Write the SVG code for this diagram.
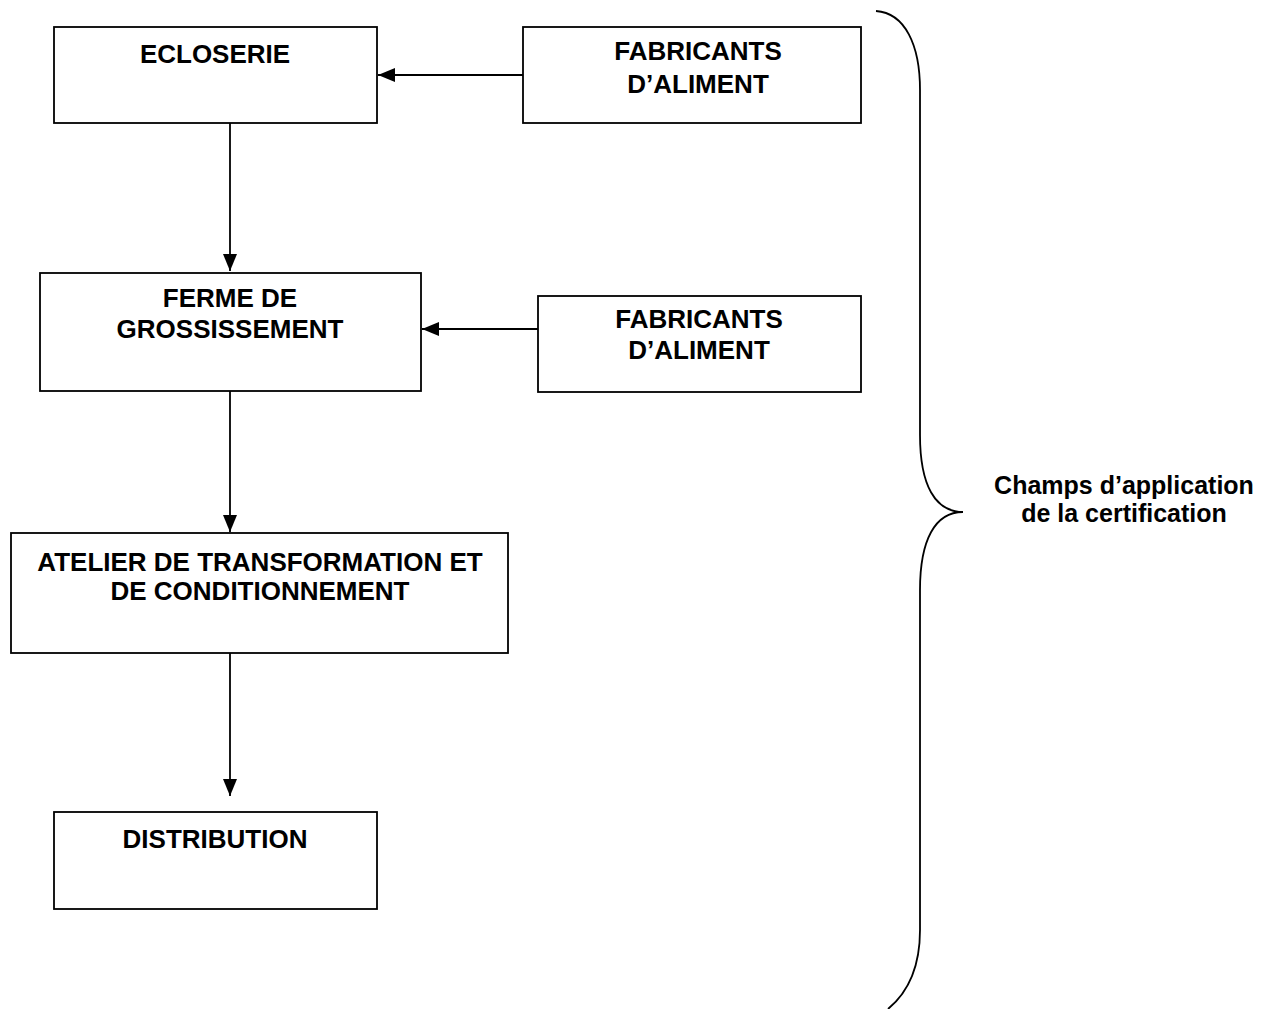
<svg xmlns="http://www.w3.org/2000/svg" width="1267" height="1009" viewBox="0 0 1267 1009">
<style>
.box{fill:#fff;stroke:#000;stroke-width:1.8}
.t{font-family:"Liberation Sans",Arial,sans-serif;font-weight:bold;font-size:26px;text-anchor:middle;fill:#000}
.c{fill:none;stroke:#000;stroke-width:1.8}
.br{fill:none;stroke:#000;stroke-width:1.8}
.lbl{font-size:25px}
</style>
<defs>
<marker id="ah" viewBox="0 0 17 14" refX="17" refY="7" markerWidth="17" markerHeight="14" markerUnits="userSpaceOnUse" orient="auto">
<path d="M0,0 L17,7 L0,14 Z" fill="#000"/>
</marker>
</defs>
<rect width="1267" height="1009" fill="#fff"/>
<g id="connectors">
<line class="c" x1="523" y1="75" x2="378" y2="75" marker-end="url(#ah)"/>
<line class="c" x1="538" y1="329" x2="422" y2="329" marker-end="url(#ah)"/>
<line class="c" x1="230" y1="123" x2="230" y2="271" marker-end="url(#ah)"/>
<line class="c" x1="230" y1="391" x2="230" y2="532" marker-end="url(#ah)"/>
<line class="c" x1="230" y1="653" x2="230" y2="796" marker-end="url(#ah)"/>
</g>
<g id="ecloserie">
<rect class="box" x="54" y="27" width="323" height="96"/>
<text class="t" x="215" y="63">ECLOSERIE</text>
</g>
<g id="fabricants1">
<rect class="box" x="523" y="27" width="338" height="96"/>
<text class="t" x="698" y="60">FABRICANTS</text>
<text class="t" x="698" y="93">D’ALIMENT</text>
</g>
<g id="ferme">
<rect class="box" x="40" y="273" width="381" height="118"/>
<text class="t" x="230" y="307">FERME DE</text>
<text class="t" x="230" y="338">GROSSISSEMENT</text>
</g>
<g id="fabricants2">
<rect class="box" x="538" y="296" width="323" height="96"/>
<text class="t" x="699" y="328">FABRICANTS</text>
<text class="t" x="699" y="359">D’ALIMENT</text>
</g>
<g id="atelier">
<rect class="box" x="11" y="533" width="497" height="120"/>
<text class="t" x="260" y="571">ATELIER DE TRANSFORMATION ET</text>
<text class="t" x="260" y="600">DE CONDITIONNEMENT</text>
</g>
<g id="distribution">
<rect class="box" x="54" y="812" width="323" height="97"/>
<text class="t" x="215" y="848">DISTRIBUTION</text>
</g>
<g id="brace">
<path class="br" d="M876,11 C905,13 920,45 920,90 L920,435 C920,485 935,512 963,512 C935,512 920,540 920,590 L920,930 C920,972 905,995 888,1009"/>
<text class="t lbl" x="1124" y="494">Champs d’application</text>
<text class="t lbl" x="1124" y="522">de la certification</text>
</g>
</svg>
